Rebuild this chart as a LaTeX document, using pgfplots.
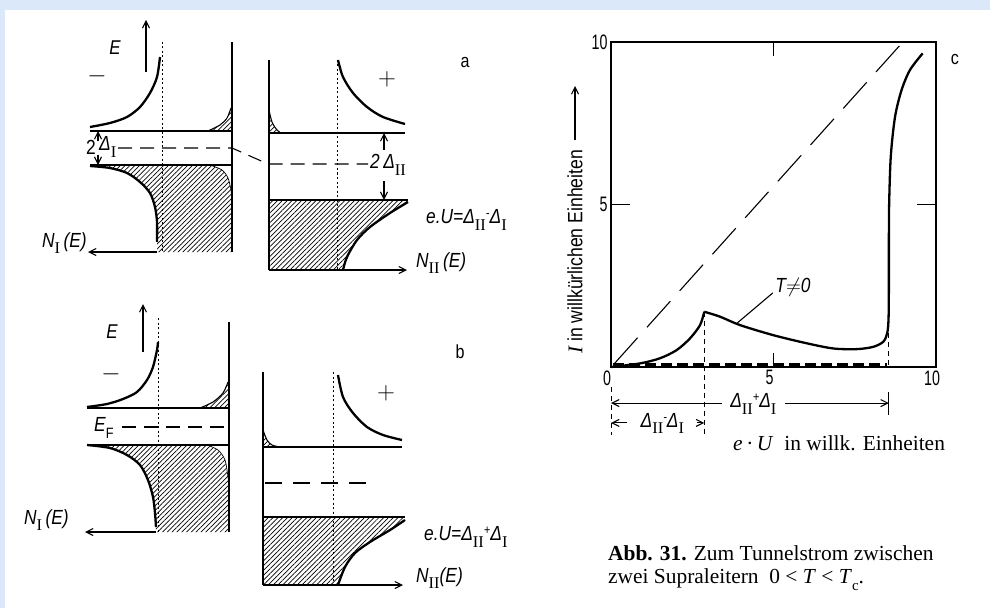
\documentclass[border=0pt]{standalone}
\usepackage{pgfplots}
\pgfplotsset{compat=1.18}
\usetikzlibrary{patterns.meta,arrows.meta}
\usepackage{fontspec}
\setmainfont{Liberation Serif}
\newfontfamily\lab[FakeStretch=0.85]{Liberation Sans}
\newfontfamily\tlab[FakeStretch=0.68]{Liberation Sans}
\newcommand\fs[1]{\fontsize{#1}{#1}\selectfont}
\newcommand\sub[1]{\raisebox{-0.32em}{\rmfamily\upshape\fs{16.5}#1}}
\definecolor{bgblue}{RGB}{219,232,250}
\tikzset{
 lthin/.style={line width=1.1bp, black},
 lthk/.style={line width=2.3bp, black},
 dotl/.style={line width=1bp, black, dash pattern=on 2bp off 2.5bp},
 dsh/.style={line width=1.1bp, black, dash pattern=on 14bp off 8bp},
 hat/.style={draw=none, pattern={Lines[angle=45,distance=3.4bp,line width=0.7bp]}},
 arr/.style={-{Straight Barb[length=7bp,width=7bp]}},
}
\begin{document}
\begin{tikzpicture}
\fill[white] (0bp,0bp) rectangle (990bp,608bp);
\fill[bgblue] (0bp,598bp) rectangle (990bp,608bp);
\fill[bgblue] (0bp,0bp) rectangle (5bp,608bp);

% ---------------- canvas in pixel coordinates (diagrams a, b and labels)
\begin{axis}[at={(0bp,0bp)}, anchor=south west, width=990bp, height=608bp,
  scale only axis, xmin=0, xmax=990, ymin=0, ymax=608, y dir=reverse,
  hide axis, clip=false]
% ===== a, left (I)
\addplot[lthin] coordinates {(232,42) (232,252)};
\addplot[dotl] coordinates {(162,42) (162,252)};
\addplot[lthin] coordinates {(90,131) (232,131)};
\addplot[lthin] coordinates {(90,165) (232,165)};
\addplot[lthk, smooth] coordinates {(90,127) (110,123) (127,117) (140,107) (150,93) (157,77) (160,57)};
\addplot[hat] coordinates {(208,131) (220,125) (227,118) (231,108) (232,108) (232,131) (208,131)};
\addplot[lthin, smooth] coordinates {(208,131) (220,125) (227,118) (231,108)};
\addplot[hat] coordinates {(90,165) (210,165) (222,170) (228,178) (231,190) (232,200) (232,252) (157,252) (157,220) (155,207) (150,193) (140,182) (127,173) (110,168) (90,166)};
\addplot[line width=0.7bp, smooth] coordinates {(210,165) (222,170) (228,178) (231,190) (232,200)};
\addplot[lthk, smooth] coordinates {(90,166) (110,168) (127,173) (140,182) (150,193) (155,207) (157,222) (157,242)};
\addplot[dsh] coordinates {(118,148) (232,148) (268,164) (368,164)};
\addplot[lthin, arr] coordinates {(98,141) (98,131)};
\addplot[lthin, arr] coordinates {(98,155) (98,165)};
\addplot[lthin, arr] coordinates {(146,72) (146,20)};
\addplot[lthin, arr] coordinates {(157,252) (88,252)};
% ===== a, right (II)
\addplot[lthin] coordinates {(269,60) (269,270)};
\addplot[dotl] coordinates {(337,60) (337,270)};
\addplot[lthk, smooth] coordinates {(338,60) (343,77) (353,93) (367,107) (383,117) (405,124)};
\addplot[hat] coordinates {(269,110) (272,122) (277,130) (281,133) (269,133) (269,110)};
\addplot[lthin, smooth] coordinates {(269,110) (272,122) (277,130) (281,133)};
\addplot[lthin] coordinates {(269,133) (405,133)};
\addplot[lthin] coordinates {(269,200) (408,200)};
\addplot[hat] coordinates {(269,200) (408,200) (408,202) (390,213) (370,227) (357,240) (347,257) (343,270) (269,270) (269,200)};
\addplot[lthk, smooth] coordinates {(408,202) (390,213) (370,227) (357,240) (347,257) (343,270)};
\addplot[lthin, arr] coordinates {(269,270) (407,270)};
\addplot[lthin, arr] coordinates {(384,150) (384,133)};
\addplot[lthin, arr] coordinates {(384,181) (384,200)};
% ===== b, left (I)
\addplot[lthin] coordinates {(229,322) (229,532)};
\addplot[dotl] coordinates {(158,318) (158,532)};
\addplot[lthin] coordinates {(87,408) (229,408)};
\addplot[lthin] coordinates {(87,445) (229,445)};
\addplot[lthk, smooth] coordinates {(87,407) (107,404) (123,399) (137,392) (147,380) (153,367) (157,350) (158,342)};
\addplot[hat] coordinates {(200,408) (213,402) (223,393) (228,382) (229,382) (229,408) (200,408)};
\addplot[lthin, smooth] coordinates {(200,408) (213,402) (223,393) (228,382)};
\addplot[hat] coordinates {(87,445) (207,445) (218,450) (225,460) (228,477) (229,485) (229,532) (156,532) (155,513) (153,497) (148,480) (140,465) (127,455) (110,448) (87,445)};
\addplot[line width=0.7bp, smooth] coordinates {(207,445) (218,450) (225,460) (228,477) (229,485)};
\addplot[lthk, smooth] coordinates {(87,445) (110,448) (127,455) (140,465) (148,480) (153,497) (155,513) (156,527)};
\addplot[dsh] coordinates {(122,427) (229,427)};
\addplot[lthin, arr] coordinates {(143,352) (143,304)};
\addplot[lthin, arr] coordinates {(156,532) (85,532)};
% ===== b, right (II)
\addplot[lthin] coordinates {(263,372) (263,585)};
\addplot[dotl] coordinates {(333,372) (333,585)};
\addplot[lthk, smooth] coordinates {(338,375) (343,397) (353,413) (367,427) (383,435) (402,440)};
\addplot[hat] coordinates {(263,430) (267,440) (272,445) (280,447) (263,447) (263,430)};
\addplot[lthin, smooth] coordinates {(263,430) (267,440) (272,445) (280,447)};
\addplot[lthin] coordinates {(263,447) (402,447)};
\addplot[dsh, dash pattern=on 17bp off 11bp] coordinates {(265,483) (375,483)};
\addplot[lthin] coordinates {(263,517) (405,517)};
\addplot[hat] coordinates {(263,517) (405,517) (405,520) (390,530) (370,542) (355,553) (345,567) (338,585) (263,585) (263,517)};
\addplot[lthk, smooth] coordinates {(405,520) (390,530) (370,542) (355,553) (345,567) (338,585)};
\addplot[lthin, arr] coordinates {(263,585) (403,585)};
% y-label arrow of c
\addplot[lthin, arr] coordinates {(575,140) (575,86)};

% ----- text of a
\node[inner sep=0] at (axis cs:115,48) {\lab\itshape\fs{20}E};
\node[inner sep=0] at (axis cs:97,76) {\fs{38}$-$};
\node[inner sep=0] at (axis cs:91,147) {\lab\fs{20.5}2};
\node[inner sep=0, anchor=west] at (axis cs:99,147) {\lab\itshape\fs{20.5}Δ\sub{I}};
\node[inner sep=0, anchor=west] at (axis cs:42,243) {\lab\itshape\fs{20.5}N\sub{I}\,(E)};
\node[inner sep=0] at (axis cs:387,79) {\fs{32}$+$};
\node[inner sep=0] at (axis cs:465,63) {\lab\fs{19}a};
\node[inner sep=0, anchor=west] at (axis cs:370,165) {\lab\itshape\fs{20.5}2\,Δ\sub{II}};
\node[inner sep=0, anchor=west] at (axis cs:426,220) {\lab\itshape\fs{20.5}e.U=Δ\sub{II}\raisebox{.3em}{\fs{13}-}Δ\sub{I}};
\node[inner sep=0, anchor=west] at (axis cs:416,263) {\lab\itshape\fs{20.5}N\sub{II}\,(E)};
% ----- text of b
\node[inner sep=0] at (axis cs:112,332) {\lab\itshape\fs{20}E};
\node[inner sep=0] at (axis cs:111,374) {\fs{34}$-$};
\node[inner sep=0, anchor=west] at (axis cs:94,428) {\lab\itshape\fs{20.5}E\raisebox{-0.3em}{\upshape\fs{15}F}};
\node[inner sep=0, anchor=west] at (axis cs:24,520) {\lab\itshape\fs{20.5}N\sub{I}\,(E)};
\node[inner sep=0] at (axis cs:386,393) {\fs{32}$+$};
\node[inner sep=0] at (axis cs:460,352) {\lab\fs{19}b};
\node[inner sep=0, anchor=west] at (axis cs:424,537) {\lab\itshape\fs{20.5}e.U=Δ\sub{II}\raisebox{.3em}{\fs{13}+}Δ\sub{I}};
\node[inner sep=0, anchor=west] at (axis cs:416,578) {\lab\itshape\fs{20.5}N\sub{II}(E)};
% ----- text of c
\node[inner sep=0] at (axis cs:955,60) {\lab\fs{19}c};
\node[inner sep=0] at (axis cs:793,287) {\lab\itshape\fs{20.5}T$\neq$0};
\node[inner sep=0, rotate=90, anchor=west] at (axis cs:575,354) {{\rmfamily\itshape\fs{21}I}\hspace{5bp}{\lab\fs{20.8}in willkürlichen Einheiten}};
\node[inner sep=0, anchor=base west] at (axis cs:733,450) {\fs{21.5}\textit{e}\,·\,\textit{U}\ \ in willk. Einheiten};
\node[inner sep=0, anchor=base west] at (axis cs:608,560) {\fs{21.5}\textbf{Abb. 31.} Zum Tunnelstrom zwischen};
\node[inner sep=0, anchor=base west] at (axis cs:608,583) {\fs{21.5}zwei Supraleitern\ \ 0 < \textit{T} < \textit{T}\raisebox{-0.35em}{\fs{15}c}.};
\end{axis}

% ---------------- plot c
\begin{axis}[at={(611bp,241bp)}, anchor=south west, width=325bp, height=325bp,
  scale only axis, xmin=0, xmax=10, ymin=0, ymax=10,
  xtick={0,5,10}, ytick={5,10}, tick align=inside,
  axis line style={line width=1.8bp},
  major tick style={line width=1.5bp, black},
  xtick style={/pgfplots/major tick length=14bp},
  ytick style={/pgfplots/major tick length=19bp},
  tick label style={font=\tlab\fs{21}},
  xticklabel style={xshift=-4bp},
  /pgf/number format/assume math mode=true,
  clip=false]
\addplot[line width=1.1bp, dash pattern=on 35bp off 14bp] coordinates {(0.1,0.1) (8.98,10)};
\addplot[line width=2.5bp, dash pattern=on 11bp off 5bp] coordinates {(0.05,0.07) (8.5,0.07)};
\addplot[lthk, smooth] coordinates {(0,0) (0.89,0.11) (1.51,0.27) (2.02,0.52) (2.43,0.88) (2.74,1.29) (2.87,1.70)};
\addplot[lthk, smooth] coordinates {(2.87,1.70) (3.35,1.55) (3.97,1.29) (4.99,0.98) (6.02,0.73) (6.84,0.57) (7.56,0.55) (8.07,0.62) (8.38,0.78) (8.50,1.05) (8.54,1.5) (8.55,2.5) (8.55,4.0) (8.56,5.1) (8.61,6.5) (8.74,7.70) (8.94,8.52) (9.2,9.14) (9.59,9.65)};
\addplot[line width=1bp, dash pattern=on 5bp off 4bp] coordinates {(2.87,1.70) (2.87,-2.09)};
\addplot[line width=1bp, dash pattern=on 5bp off 4bp] coordinates {(8.55,1.05) (8.55,0)};
\addplot[line width=1bp, dash pattern=on 5bp off 4bp] coordinates {(0,-0.62) (0,-2.09)};
\addplot[lthin] coordinates {(8.55,-0.77) (8.55,-1.48)};
\addplot[lthin, arr] coordinates {(3.42,-1.11) (0,-1.11)};
\addplot[lthin, arr] coordinates {(5.35,-1.11) (8.55,-1.11)};
\addplot[lthin, arr] coordinates {(0.5,-1.72) (0,-1.72)};
\addplot[lthin, arr] coordinates {(2.66,-1.72) (2.87,-1.72)};
\addplot[lthin] coordinates {(4.98,2.28) (3.88,1.35)};
\node[inner sep=0] at (axis cs:4.38,-1.13) {\lab\itshape\fs{20.5}Δ\sub{II}\raisebox{.3em}{\fs{13}+}Δ\sub{I}};
\node[inner sep=0] at (axis cs:1.58,-1.74) {\lab\itshape\fs{20.5}Δ\sub{II}\raisebox{.3em}{\fs{13}-}Δ\sub{I}};
\end{axis}
\pgfresetboundingbox
\path[use as bounding box] (0bp,0bp) rectangle (990bp,608bp);
\end{tikzpicture}
\end{document}
